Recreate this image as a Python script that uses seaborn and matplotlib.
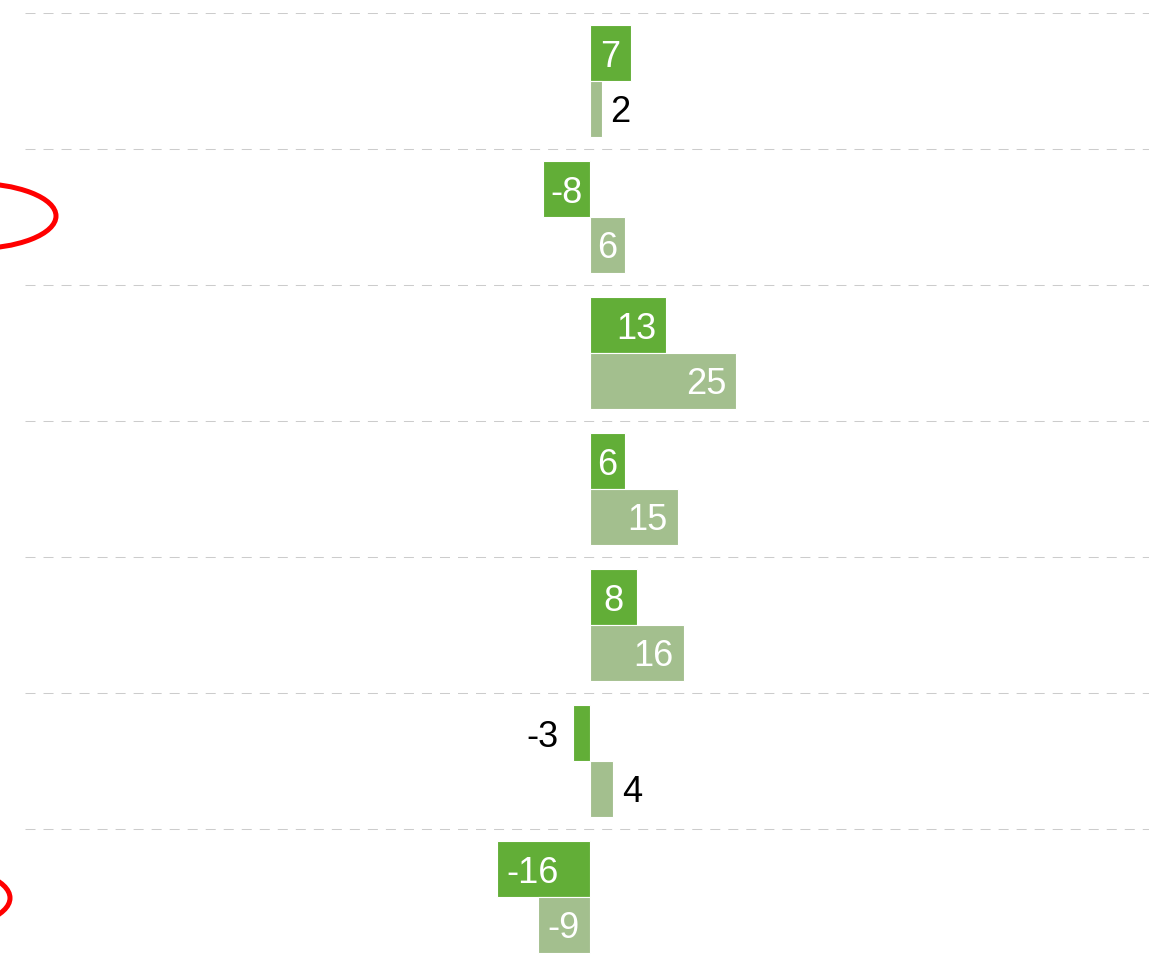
import pandas as pd
import matplotlib.pyplot as plt
import seaborn as sns
from matplotlib.patches import Ellipse

# Data
categories = ['Grup 1', 'Grup 2', 'Grup 3', 'Grup 4', 'Grup 5', 'Grup 6', 'Grup 7']
series_names = ['Seri 1', 'Seri 2']
seri_1 = [7, -8, 13, 6, 8, -3, -16]
seri_2 = [2, 6, 25, 15, 16, 4, -9]
colors = ['#62AE37', '#A3BF8E']

df = pd.DataFrame({
    'Kategori': categories * 2,
    'Seri': [series_names[0]] * len(categories) + [series_names[1]] * len(categories),
    'Nilai': seri_1 + seri_2,
})

sns.set_style('white')
plt.rcParams['font.family'] = ['Liberation Sans', 'DejaVu Sans']

fig = plt.figure(figsize=(11.49, 9.63), dpi=100)
ax = fig.add_axes([25 / 1149, -2 / 963, 1124 / 1149, 952 / 963])

sns.barplot(data=df, y='Kategori', x='Nilai', hue='Seri', orient='h',
            palette=colors, width=0.82, edgecolor='white', linewidth=0.8,
            legend=False, ax=ax, saturation=1)

ax.set_xlim(-96.75, 95.7)
ax.set_ylim(len(categories) - 0.5, -0.5)

# garis putus-putus di antara grup
for i in range(len(categories)):
    ax.axhline(i - 0.5, color='#cccccc', lw=0.75, linestyle=(0, (9.6, 7.7)), zorder=0)

# label nilai
fs = 26
for container in ax.containers:
    for bar in container:
        v = bar.get_width()
        yc = bar.get_y() + bar.get_height() / 2
        if abs(v) < 5:
            off = 6 if v >= 0 else -10
            ax.annotate(f'{v:g}', (v, yc), xytext=(off, 0), textcoords='offset points',
                        ha='left' if v >= 0 else 'right', va='center_baseline',
                        fontsize=fs, color='black')
        elif abs(v) >= 12:
            off = -7 if v >= 0 else 7
            ax.annotate(f'{v:g}', (v, yc), xytext=(off, 0), textcoords='offset points',
                        ha='right' if v >= 0 else 'left', va='center_baseline',
                        fontsize=fs, color='white')
        else:
            ax.text(v / 2, yc, f'{v:g}', ha='center', va='center_baseline',
                    fontsize=fs, color='white')

ax.set_xticks([])
ax.set_yticks([])
ax.set_xlabel('')
ax.set_ylabel('')
sns.despine(ax=ax, left=True, bottom=True)

# elips merah penanda
for cx, cy in [(-29, 216), (-75, 898)]:
    fig.add_artist(Ellipse((cx / 1149, 1 - cy / 963), 170 / 1149, 66 / 963,
                           transform=fig.transFigure, fill=False,
                           edgecolor='red', lw=3.6, clip_on=False))

fig.savefig('out.png', dpi=100)
